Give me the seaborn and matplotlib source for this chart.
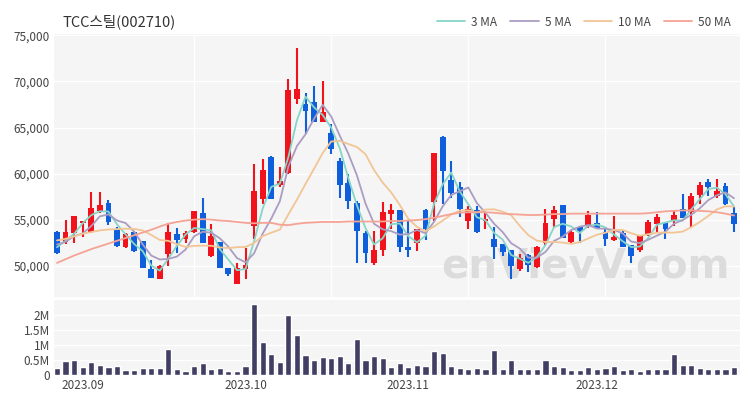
import numpy as np
import pandas as pd
import matplotlib
matplotlib.use("Agg")
import matplotlib.pyplot as plt
import seaborn as sns

# ---- data ----
title = "TCC스틸(002710)"
krx_holidays = ["2023-09-28", "2023-09-29", "2023-10-02", "2023-10-03", "2023-10-09", "2023-12-25"]
trade_days = pd.bdate_range("2023-08-29", "2023-12-26").drop(pd.to_datetime(krx_holidays))

opens = [53700, 52600, 53500, 54600, 53700, 55900, 56800, 54000, 52000, 53700,
         52700, 49600, 48600, 51300, 53400, 52900, 53700, 55700, 51000, 52600,
         49750, 48050, 49600, 54300, 57200, 61800, 58800, 60100, 68100, 67500,
         67800, 65600, 64400, 61400, 59000, 56800, 53500, 50300, 51700, 55600,
         56000, 52000, 52500, 56000, 56900, 64000, 59300, 58500, 54900, 56000,
         54900, 52900, 52400, 51700, 49600, 51200, 49900, 52500, 55100, 56600,
         52600, 54200, 54300, 54600, 53700, 52800, 53500, 52200, 51700, 53400,
         54500, 54600, 54900, 56200, 55800, 57700, 59100, 57600, 58700, 55700]
highs = [53800, 55000, 55400, 54800, 58000, 58000, 57100, 54200, 53500, 53800,
         52700, 50650, 50050, 54600, 54100, 53800, 55900, 57300, 54500, 52600,
         49750, 50300, 51900, 61000, 61600, 61900, 60700, 70300, 73600, 68800,
         69500, 70000, 65400, 61700, 59900, 57000, 53800, 53800, 56900, 56700,
         56000, 54900, 54000, 56100, 62200, 64100, 61400, 59100, 56500, 56500,
         55800, 54200, 52400, 51700, 51300, 51300, 52100, 56200, 56500, 56600,
         53900, 54200, 55900, 55800, 54000, 55400, 53800, 52200, 53300, 55000,
         55600, 54700, 55900, 57800, 57900, 59100, 59400, 59400, 59000, 56400]
lows = [51300, 52400, 52500, 53100, 53500, 55700, 54400, 52000, 51900, 51500,
        49700, 48650, 48550, 49950, 51400, 52500, 53500, 52500, 50900, 49700,
        48900, 48050, 48600, 52900, 56700, 57200, 58500, 60000, 67500, 64300,
        65600, 65600, 62100, 57300, 56100, 50300, 50300, 50100, 51100, 54000,
        51500, 50900, 51600, 52800, 54900, 56700, 57400, 55300, 54000, 53500,
        54000, 50700, 51000, 48500, 49400, 49300, 49700, 52200, 54100, 53000,
        52500, 52500, 54100, 54000, 52100, 52700, 52000, 50300, 51500, 53200,
        53700, 52900, 54300, 55200, 54100, 56700, 57600, 57400, 56600, 53700]
closes = [51400, 53700, 55400, 54800, 56300, 56600, 54700, 52100, 53400, 51600,
          49750, 48700, 49950, 53700, 52800, 53600, 55900, 52500, 53200, 49750,
          49050, 49750, 50100, 58100, 60400, 57200, 59200, 69100, 69200, 66800,
          65600, 66700, 62700, 58800, 57000, 53800, 51400, 51700, 55800, 56000,
          52000, 51700, 54000, 54000, 62200, 60300, 57900, 56100, 56100, 53700,
          55100, 52000, 51500, 50000, 50800, 50100, 52000, 54600, 56000, 53000,
          53700, 53800, 55500, 54100, 52900, 53100, 52000, 51000, 53300, 54700,
          55300, 54000, 55500, 55200, 57600, 58800, 58500, 58100, 56700, 54500]
volumes = [220000, 460000, 490000, 270000, 420000, 320000, 260000, 300000, 170000, 170000,
           240000, 220000, 220000, 870000, 180000, 130000, 300000, 380000, 200000, 240000,
           130000, 130000, 300000, 2360000, 1100000, 710000, 420000, 1990000, 1340000, 660000,
           510000, 590000, 560000, 620000, 380000, 1180000, 490000, 630000, 570000, 270000,
           380000, 260000, 320000, 290000, 800000, 740000, 280000, 230000, 180000, 220000,
           210000, 820000, 210000, 500000, 200000, 190000, 190000, 490000, 300000, 270000,
           170000, 160000, 270000, 180000, 240000, 280000, 160000, 180000, 140000, 210000,
           180000, 180000, 690000, 340000, 330000, 230000, 210000, 210000, 180000, 260000]

ma3 = [52000, 52700, 53470, 54610, 55490, 55910, 55880, 54490, 53400, 52360,
       51580, 50010, 49460, 50790, 52170, 53380, 54090, 53970, 53840, 51790,
       50650, 49510, 49640, 52660, 56210, 58550, 58910, 61790, 65800, 68350,
       67180, 66360, 64980, 62730, 59490, 56550, 54070, 52310, 52970, 54510,
       54580, 53200, 52540, 53230, 56740, 58820, 60110, 58060, 56660, 55260,
       54930, 53560, 52840, 51160, 50760, 50310, 50950, 52240, 54190, 54550,
       54260, 53540, 54340, 54470, 54160, 53380, 52660, 52020, 52080, 53010,
       54450, 54690, 54930, 54890, 56090, 57210, 58320, 58470, 57770, 56430]
ma5 = [52300, 52600, 53200, 53500, 54300, 55350, 55570, 54910, 54630, 53690,
       52310, 51100, 50670, 50740, 50990, 51750, 53190, 53690, 53580, 52970,
       52060, 50830, 50370, 51350, 53480, 55110, 56990, 60770, 62990, 64270,
       65960, 67460, 66190, 64110, 62150, 59800, 56740, 54550, 53950, 53750,
       53370, 53430, 53880, 53520, 54770, 56430, 57670, 58080, 58490, 56780,
       55750, 54560, 53650, 52440, 51860, 50870, 50870, 51500, 52690, 53150,
       53870, 54240, 54410, 54040, 54010, 53880, 53510, 52620, 52450, 52820,
       53260, 53680, 54560, 54950, 55520, 56220, 57120, 57650, 57950, 57320]
ma10 = [52740, 52920, 53180, 53470, 53650, 53830, 53930, 53970, 54010, 53990,
        53830, 53340, 52790, 52690, 52340, 52030, 52150, 52180, 52160, 51980,
        51910, 52010, 52030, 52470, 53220, 53580, 53910, 55570, 57170, 58880,
        60530, 62230, 63480, 63550, 63210, 62880, 62100, 60370, 59030, 57950,
        56590, 55080, 54220, 53740, 54260, 54900, 55550, 55980, 56010, 55770,
        56090, 56120, 55860, 55470, 54320, 53310, 52720, 52570, 52570, 52510,
        52370, 52560, 52960, 53360, 53580, 53880, 53880, 53520, 53250, 53420,
        53570, 53590, 53590, 53700, 54170, 54740, 55400, 56110, 56450, 56430]
ma50 = [50300, 50700, 51100, 51450, 51800, 52100, 52400, 52700, 53000, 53300,
        53600, 53900, 54250, 54550, 54750, 54900, 55000, 55050, 55000, 54900,
        54850, 54750, 54650, 54600, 54650, 54650, 54450, 54400, 54550, 54650,
        54700, 54750, 54750, 54750, 54800, 54800, 54800, 54800, 54800, 54850,
        54850, 54900, 54950, 55050, 55200, 55400, 55600, 55750, 55800, 55800,
        55800, 55750, 55650, 55600, 55550, 55500, 55500, 55550, 55600, 55600,
        55650, 55650, 55650, 55650, 55650, 55650, 55650, 55650, 55650, 55700,
        55800, 55900, 55950, 56000, 56000, 55950, 55900, 55800, 55650, 55450]

ma_labels = ["3 MA", "5 MA", "10 MA", "50 MA"]
ma_colors = ["#86d5c8", "#ab9dc2", "#f2c595", "#f4a394"]

price_ticks = [50000, 55000, 60000, 65000, 70000, 75000]
vol_ticks = [0, 500000, 1000000, 1500000, 2000000]
vol_tick_labels = ["0", "0.5M", "1M", "1.5M", "2M"]

# ---- frame ----
df = pd.DataFrame({"date": trade_days, "open": opens, "high": highs, "low": lows,
                   "close": closes, "volume": volumes,
                   "3 MA": ma3, "5 MA": ma5, "10 MA": ma10, "50 MA": ma50})
df["i"] = np.arange(len(df))
up = df["close"] >= df["open"]

sns.set_style("white")
plt.rcParams["font.family"] = ["Noto Sans CJK KR", "DejaVu Sans"]

RED = "#f2121b"
BLUE = "#0f5fdc"
BG = "#f5f5f5"
TXT = "#444444"

fig = plt.figure(figsize=(7.5, 4), dpi=100)
ax = fig.add_axes([0.072, 0.2575, 0.9147, 0.6563])
axv = fig.add_axes([0.072, 0.063, 0.9147, 0.187])

for a in (ax, axv):
    a.set_facecolor(BG)
    for s in a.spines.values():
        s.set_visible(False)
    a.tick_params(length=0, labelsize=8.5, labelcolor=TXT, pad=3)

# price grid
for t in price_ticks:
    ax.axhline(t, color="white", lw=1.0, zorder=0)
for v in [16, 32, 48, 64]:
    ax.axvline(v, color="white", lw=1.0, zorder=0)

# watermark
ax.text(0.985, 0.04, "enVievV.com", transform=ax.transAxes, ha="right", va="bottom",
        fontsize=29, fontweight="bold", color="#dcdcdc", family=["DejaVu Sans"], zorder=1)

# candles
colors = np.where(up, RED, BLUE)
ax.vlines(df["i"], df["low"], df["high"], colors=colors, lw=1.5, zorder=3)
body_lo = np.minimum(df["open"], df["close"])
body_h = np.maximum(np.abs(df["close"] - df["open"]), 120)
ax.bar(df["i"], body_h, bottom=body_lo, width=0.68, color=colors, zorder=3, linewidth=0)

# moving averages
for lab, col in zip(ma_labels, ma_colors):
    sns.lineplot(data=df, x="i", y=lab, ax=ax, color=col, lw=1.3, label=lab, zorder=4)

ax.set_xlim(-0.35, 79.7)
ax.set_ylim(46600, 75100)
ax.set_yticks(price_ticks)
ax.set_yticklabels([f"{t:,}" for t in price_ticks])
ax.set_xticks([])
ax.set_xlabel("")
ax.set_ylabel("")

leg = ax.legend(loc="lower right", bbox_to_anchor=(0.995, 1.0), ncol=4, frameon=False,
                fontsize=8.5, handlelength=2.4, handletextpad=0.5, columnspacing=1.1,
                borderaxespad=0.1)
for t in leg.get_texts():
    t.set_color(TXT)

fig.text(0.083, 0.945, title, fontsize=10.5, color="#333333", ha="left", va="center")

# volume
for t in vol_ticks:
    axv.axhline(t, color="white", lw=1.0, zorder=0)
sns.barplot(data=df, x="i", y="volume", ax=axv, native_scale=True, color="#403e63",
            width=0.72, saturation=1, zorder=3)
axv.set_xlim(-0.35, 79.7)
axv.set_ylim(0, 2.5e6)
axv.set_yticks(vol_ticks)
axv.set_yticklabels(vol_tick_labels)
month_first = df.groupby(df["date"].dt.to_period("M"))["i"].min()
month_first = month_first[month_first > 0]
axv.set_xticks(month_first.values)
axv.set_xticklabels([p.strftime("%Y.%m") for p in month_first.index])
axv.set_xlabel("")
axv.set_ylabel("")

fig.savefig("out.png", dpi=100)
